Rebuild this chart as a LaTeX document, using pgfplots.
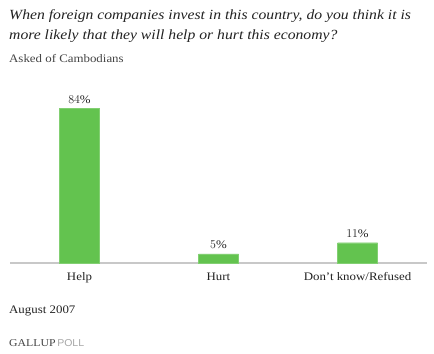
\documentclass[border=0pt]{standalone}
\usepackage{pgfplots}
\pgfplotsset{compat=1.18}
\usepackage{fontspec}
\setmainfont[FakeStretch=1.12]{Liberation Serif}
\newfontfamily\logosans[FakeStretch=1.05]{Liberation Sans}
\definecolor{bargreen}{HTML}{63C34F}
\definecolor{axgray}{HTML}{C8C8C8}
\definecolor{txt}{HTML}{222222}
\definecolor{subtxt}{HTML}{444444}
\begin{document}
\begin{tikzpicture}
\useasboundingbox (0bp,0bp) rectangle (434bp,-354bp);
\node[anchor=base west,inner sep=0,text=txt,font=\fontsize{14bp}{16bp}\selectfont\itshape] at (9bp,-19bp) {When foreign companies invest in this country, do you think it is};
\node[anchor=base west,inner sep=0,text=txt,font=\fontsize{14bp}{16bp}\selectfont\itshape] at (9bp,-39bp) {more likely that they will help or hurt this economy?};
\node[anchor=base west,inner sep=0,text=subtxt,font=\fontsize{11.5bp}{12bp}\selectfont] at (9bp,-62bp) {Asked of Cambodians};
\begin{axis}[
  at={(10bp,-263bp)}, anchor=south west,
  scale only axis, width=417bp, height=155bp,
  xmin=-0.5, xmax=2.5, ymin=0, ymax=84,
  axis x line=bottom, axis y line=none,
  x axis line style={draw=axgray, line width=1.5bp, -},
  xtick=data, xticklabels={Help,Hurt,Don't know/Refused},
  major tick length=0pt,
  xticklabel style={text=txt,font=\fontsize{11.5bp}{12bp}\selectfont, anchor=base, yshift=-17bp},
  ybar, bar width=40bp,
  nodes near coords={\pgfmathprintnumber{\pgfplotspointmeta}\%},
  nodes near coords style={text=txt,font=\fontsize{11.5bp}{12bp}\selectfont, anchor=base, inner sep=0pt, yshift=5bp},
  clip=false,
]
\addplot[fill=bargreen, draw=bargreen!80!white] coordinates {(0,84) (1,5) (2,11)};
\end{axis}
\node[anchor=base west,inner sep=0,text=txt,font=\fontsize{11.5bp}{12bp}\selectfont] at (9bp,-313bp) {August 2007};
\node[anchor=base west,inner sep=0,font=\fontsize{10.5bp}{12bp}\selectfont] at (9bp,-346bp) {\textcolor{subtxt}{GALLUP}\textcolor{black!35}{\logosans\fontsize{10bp}{12bp}\selectfont\,POLL}};
\end{tikzpicture}
\end{document}
